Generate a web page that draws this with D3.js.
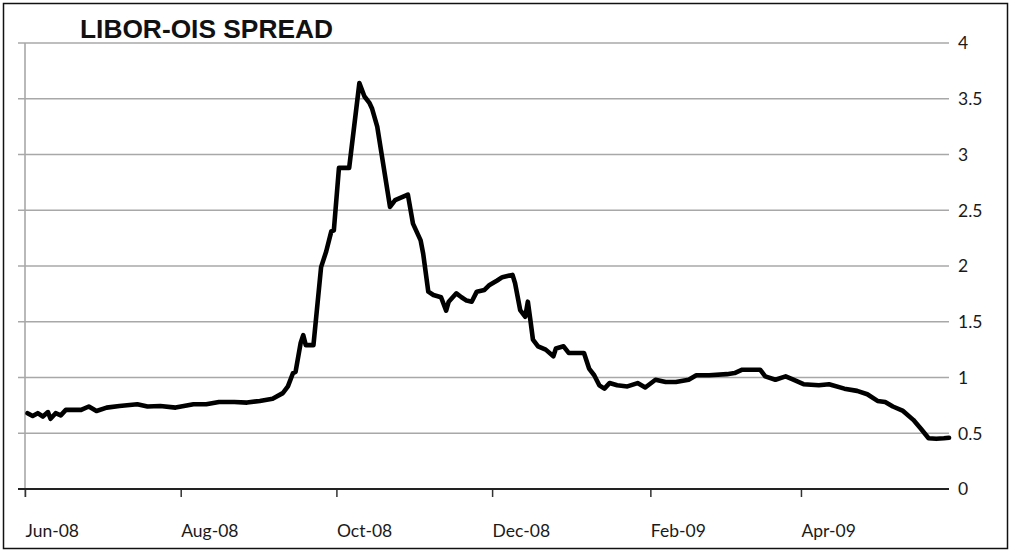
<!DOCTYPE html>
<html><head><meta charset="utf-8">
<script src="https://cdn.jsdelivr.net/npm/d3@7"></script>
<style>body{margin:0;background:#fff}svg{display:block}</style>
</head><body>
<svg id="c" width="1011" height="553"></svg>
<script>
const title = "LIBOR-OIS SPREAD";
const dates = ["2008-06-02","2008-06-04","2008-06-06","2008-06-08","2008-06-10","2008-06-11","2008-06-13","2008-06-15","2008-06-17","2008-06-23","2008-06-26","2008-06-29","2008-07-03","2008-07-08","2008-07-15","2008-07-19","2008-07-24","2008-07-30","2008-08-06","2008-08-11","2008-08-16","2008-08-22","2008-08-27","2008-09-01","2008-09-06","2008-09-10","2008-09-12","2008-09-14","2008-09-15","2008-09-17","2008-09-18","2008-09-19","2008-09-22","2008-09-25","2008-09-27","2008-09-29","2008-09-30","2008-10-02","2008-10-06","2008-10-10","2008-10-12","2008-10-14","2008-10-15","2008-10-17","2008-10-22","2008-10-24","2008-10-29","2008-10-31","2008-11-03","2008-11-04","2008-11-06","2008-11-08","2008-11-11","2008-11-13","2008-11-14","2008-11-17","2008-11-19","2008-11-21","2008-11-23","2008-11-25","2008-11-28","2008-11-30","2008-12-03","2008-12-05","2008-12-09","2008-12-10","2008-12-12","2008-12-14","2008-12-15","2008-12-16","2008-12-17","2008-12-19","2008-12-22","2008-12-25","2008-12-26","2008-12-29","2008-12-31","2009-01-06","2009-01-08","2009-01-10","2009-01-12","2009-01-14","2009-01-16","2009-01-19","2009-01-23","2009-01-27","2009-01-30","2009-02-03","2009-02-07","2009-02-11","2009-02-16","2009-02-19","2009-02-24","2009-03-03","2009-03-06","2009-03-09","2009-03-16","2009-03-18","2009-03-22","2009-03-26","2009-03-29","2009-04-02","2009-04-08","2009-04-12","2009-04-18","2009-04-23","2009-04-27","2009-05-01","2009-05-04","2009-05-07","2009-05-11","2009-05-15","2009-05-18","2009-05-21","2009-05-24","2009-05-27","2009-05-29"];
const spread = [0.68,0.655,0.68,0.65,0.69,0.63,0.68,0.66,0.71,0.71,0.74,0.70,0.73,0.745,0.76,0.74,0.745,0.73,0.76,0.76,0.78,0.78,0.775,0.79,0.81,0.86,0.92,1.04,1.05,1.31,1.38,1.29,1.29,1.99,2.13,2.31,2.32,2.88,2.88,3.64,3.52,3.46,3.41,3.25,2.53,2.59,2.64,2.38,2.23,2.11,1.77,1.74,1.72,1.60,1.68,1.755,1.72,1.69,1.68,1.77,1.785,1.83,1.87,1.90,1.92,1.845,1.605,1.545,1.68,1.515,1.34,1.28,1.25,1.19,1.26,1.28,1.22,1.22,1.08,1.02,0.93,0.90,0.95,0.93,0.92,0.95,0.91,0.98,0.96,0.96,0.98,1.02,1.02,1.03,1.04,1.07,1.07,1.01,0.98,1.01,0.98,0.94,0.93,0.94,0.90,0.88,0.85,0.79,0.78,0.74,0.70,0.62,0.54,0.455,0.45,0.455,0.46];
const xTickDates = ["2008-06-01","2008-08-01","2008-10-01","2008-12-01","2009-02-01","2009-04-01"];
const yTicks = [0,0.5,1,1.5,2,2.5,3,3.5,4];
const xDomain = ["2008-06-01","2009-05-29"];

const parse = d3.utcParse("%Y-%m-%d");
const fmt = d3.utcFormat("%b-%y");
const svg = d3.select("#c");
const x = d3.scaleUtc().domain(xDomain.map(parse)).range([25, 949]);
const y = d3.scaleLinear().domain([0, 4]).range([489, 43]);
const labelFont = "Lato, 'Open Sans', sans-serif";

// frame
svg.append("rect").attr("x",3.5).attr("y",3.5).attr("width",1004).attr("height",545)
  .attr("fill","none").attr("stroke","#111").attr("stroke-width",1.5);

// gridlines
svg.append("g").selectAll("line").data(yTicks.filter(v=>v>0)).join("line")
  .attr("x1",18).attr("x2",949).attr("y1",d=>y(d)).attr("y2",d=>y(d))
  .attr("stroke","#a8a8a8").attr("stroke-width",1.6);

// left vertical axis line
svg.append("line").attr("x1",x(parse(xTickDates[0]))).attr("x2",x(parse(xTickDates[0])))
  .attr("y1",y(4)).attr("y2",497).attr("stroke","#a8a8a8").attr("stroke-width",1.6);

// right axis labels
const yAxis = d3.axisRight(y).tickValues(yTicks).tickSize(0).tickPadding(0).tickFormat(d3.format("~g"));
const gy = svg.append("g").attr("transform","translate(958,0)").call(yAxis);
gy.select(".domain").remove();
gy.selectAll("text").attr("font-family",labelFont).attr("font-size",17.5).attr("fill","#1a1a1a").attr("dy","0.34em");

// x axis
const xAxis = d3.axisBottom(x).tickValues(xTickDates.map(parse)).tickSize(8).tickPadding(0).tickFormat(fmt);
const gx = svg.append("g").attr("transform",`translate(0,${y(0)})`).call(xAxis);
gx.select(".domain").remove();
gx.append("line").attr("x1",18).attr("x2",949).attr("y1",0).attr("y2",0).attr("stroke","#222").attr("stroke-width",1.8);
gx.selectAll(".tick line").attr("stroke","#333").attr("stroke-width",1.5);
gx.selectAll(".tick text").attr("font-family",labelFont).attr("font-size",17.5)
  .attr("fill","#1a1a1a").attr("text-anchor","start").attr("y",48).attr("dy",0);

// line
const line = d3.line().x((d,i)=>x(parse(dates[i]))).y(d=>y(d));
svg.append("path").datum(spread).attr("d",line).attr("fill","none")
  .attr("stroke","#000").attr("stroke-width",4.6).attr("stroke-linejoin","round").attr("stroke-linecap","round");

// title
svg.append("text").attr("x",80).attr("y",38).text(title)
  .attr("font-family","'Liberation Sans', Arial, sans-serif").attr("font-weight","bold")
  .attr("font-size",26.5).attr("textLength",253).attr("lengthAdjust","spacingAndGlyphs").attr("fill","#111");
</script>
</body></html>
